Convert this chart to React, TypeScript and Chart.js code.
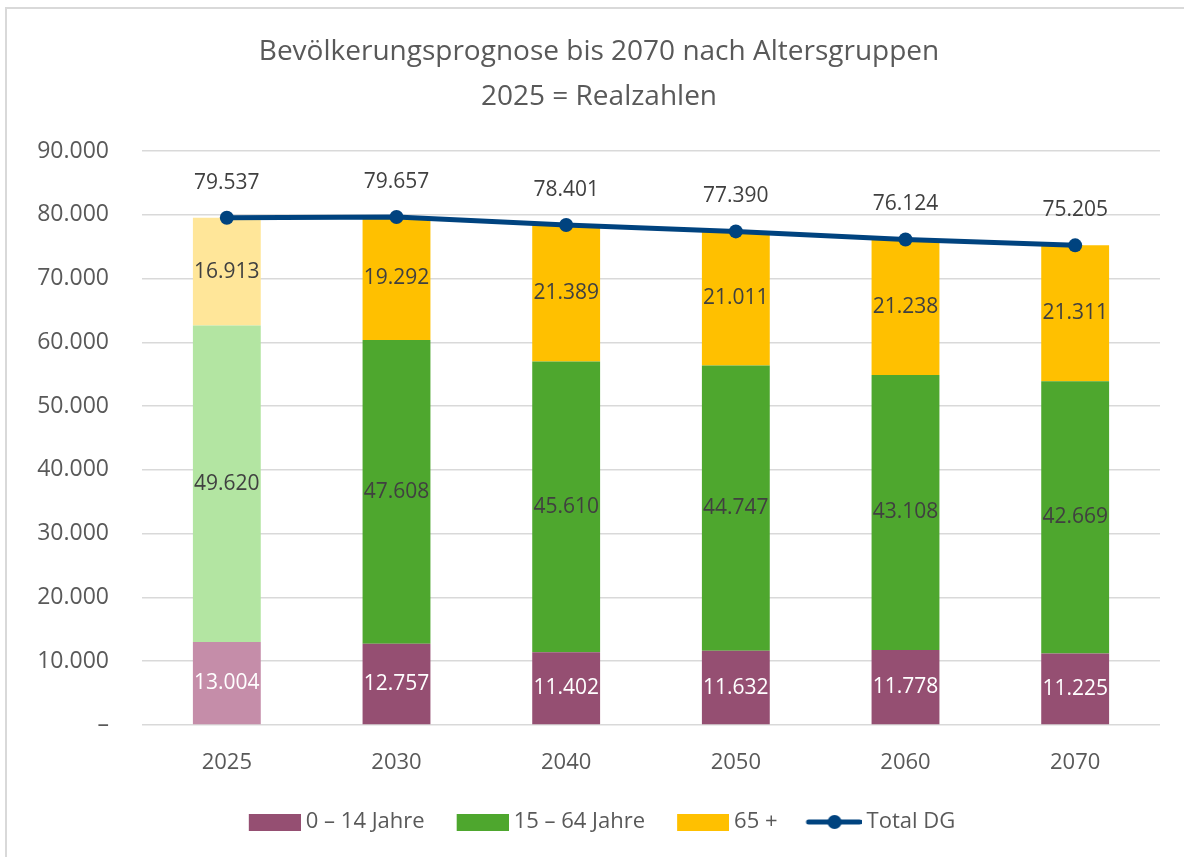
import React, { useEffect, useRef } from "react";
import { Chart, registerables } from "chart.js";

Chart.register(...registerables);

const years = ["2025", "2030", "2040", "2050", "2060", "2070"];
const kids = [13004, 12757, 11402, 11632, 11778, 11225];
const working = [49620, 47608, 45610, 44747, 43108, 42669];
const seniors = [16913, 19292, 21389, 21011, 21238, 21311];
const total = [79537, 79657, 78401, 77390, 76124, 75205];
const seriesNames = ["0 – 14 Jahre", "15 – 64 Jahre", "65 +", "Total DG"];
const titleLines = ["Bevölkerungsprognose bis 2070 nach Altersgruppen", "2025 = Realzahlen"];

const C_KIDS = "#954F72";
const C_KIDS_L = "#C58DA9";
const C_WORK = "#4EA72E";
const C_WORK_L = "#B3E5A2";
const C_SEN = "#FFC000";
const C_SEN_L = "#FFE699";
const C_LINE = "#00437F";
const TXT = "#595959";
const LBL = "#404040";
const FONT = "'Open Sans', 'Noto Sans', sans-serif";

function fmt(n: number): string {
  return Math.round(n).toString().replace(/\B(?=(\d{3})+(?!\d))/g, ".");
}

function perBar(normal: string, light: string) {
  return years.map((_, i) => (i === 0 ? light : normal));
}

// legend swatch; transparent left margin shifts the swatch right so the text gap is small
function boxImg(color: string) {
  const c = document.createElement("canvas");
  c.width = 64;
  c.height = 17;
  const ctx = c.getContext("2d")!;
  ctx.fillStyle = color;
  ctx.fillRect(12, 0, 52, 17);
  return c;
}

function lineImg(color: string) {
  const c = document.createElement("canvas");
  c.width = 64;
  c.height = 16;
  const ctx = c.getContext("2d")!;
  ctx.strokeStyle = color;
  ctx.lineWidth = 5;
  ctx.lineCap = "round";
  ctx.beginPath();
  ctx.moveTo(11, 8);
  ctx.lineTo(62, 8);
  ctx.stroke();
  ctx.fillStyle = color;
  ctx.beginPath();
  ctx.arc(37, 8, 7, 0, Math.PI * 2);
  ctx.fill();
  return c;
}

const labelPlugin = {
  id: "valueLabels",
  afterDatasetsDraw(chart: any) {
    const ctx = chart.ctx;
    ctx.save();
    ctx.font = `21px ${FONT}`;
    ctx.textAlign = "center";
    ctx.textBaseline = "middle";
    chart.data.datasets.forEach((ds: any, di: number) => {
      const meta = chart.getDatasetMeta(di);
      meta.data.forEach((el: any, i: number) => {
        const v = ds.data[i];
        if (ds.type === "line") {
          ctx.fillStyle = LBL;
          ctx.fillText(fmt(v), el.x, el.y - 35);
        } else {
          ctx.fillStyle = di === 0 ? "#FFFFFF" : LBL;
          ctx.fillText(fmt(v), el.x, (el.y + el.base) / 2);
        }
      });
    });
    ctx.restore();
  },
};

export default function App() {
  const ref = useRef<HTMLCanvasElement>(null);
  useEffect(() => {
    const legendImgs = [boxImg(C_KIDS), boxImg(C_WORK), boxImg(C_SEN), lineImg(C_LINE)];
    const chart = new Chart(ref.current!, {
      type: "bar",
      data: {
        labels: years,
        datasets: [
          {
            type: "bar",
            label: seriesNames[0],
            data: kids,
            backgroundColor: perBar(C_KIDS, C_KIDS_L),
            stack: "pop",
            order: 1,
          },
          {
            type: "bar",
            label: seriesNames[1],
            data: working,
            backgroundColor: perBar(C_WORK, C_WORK_L),
            stack: "pop",
            order: 1,
          },
          {
            type: "bar",
            label: seriesNames[2],
            data: seniors,
            backgroundColor: perBar(C_SEN, C_SEN_L),
            stack: "pop",
            order: 1,
          },
          {
            type: "line",
            label: seriesNames[3],
            data: total,
            borderColor: C_LINE,
            backgroundColor: C_LINE,
            borderWidth: 5,
            pointRadius: 7,
            pointBackgroundColor: C_LINE,
            pointBorderWidth: 0,
            tension: 0,
            stack: "total",
            order: 0,
          } as any,
        ],
      },
      options: {
        animation: false,
        responsive: false,
        datasets: {
          bar: { barPercentage: 0.4, categoryPercentage: 1.0 },
        },
        layout: { padding: { left: 14, right: 0, top: 0, bottom: 14 } },
        scales: {
          x: {
            stacked: true,
            grid: { display: false },
            border: { display: false },
            ticks: { color: TXT, font: { family: FONT, size: 22 }, padding: 17 },
            afterFit: (s: any) => {
              s.height = 60;
            },
          },
          y: {
            stacked: true,
            min: 0,
            max: 90000,
            grid: { color: "#D9D9D9", lineWidth: 1.5, drawTicks: false },
            border: { display: false },
            ticks: {
              stepSize: 10000,
              color: TXT,
              font: { family: FONT, size: 23 },
              padding: 33,
              callback: (v: any) => (Number(v) === 0 ? "–" : fmt(Number(v))),
            },
            afterFit: (s: any) => {
              s.width = 128;
            },
          },
          yRightSpace: {
            position: "right",
            display: true,
            min: 0,
            max: 90000,
            grid: { display: false, drawTicks: false },
            border: { display: false },
            ticks: { display: false },
            afterFit: (s: any) => {
              s.width = 24;
            },
          },
        },
        plugins: {
          title: {
            display: true,
            text: titleLines,
            color: TXT,
            font: { family: FONT, size: 28, weight: "normal", lineHeight: 1.607 },
            padding: { top: 30, bottom: 31 },
          },
          legend: {
            position: "bottom",
            labels: {
              usePointStyle: true,
              pointStyleWidth: 52,
              boxHeight: 17,
              padding: 26,
              color: TXT,
              font: { family: FONT, size: 22, lineHeight: 1 },
              generateLabels: (ch: any) =>
                ch.data.datasets.map((ds: any, i: number) => ({
                  text: ds.label,
                  datasetIndex: i,
                  pointStyle: legendImgs[i],
                  fillStyle: "rgba(0,0,0,0)",
                  strokeStyle: "rgba(0,0,0,0)",
                  lineWidth: 0,
                  fontColor: TXT,
                  hidden: false,
                })),
            },
          },
          tooltip: { enabled: false },
        },
      },
      plugins: [labelPlugin],
    });
    return () => chart.destroy();
  }, []);

  return (
    <div
      style={{
        position: "fixed",
        left: 0,
        top: 0,
        width: 1184,
        height: 857,
        overflow: "hidden",
        background: "#FFFFFF",
      }}
    >
      <div
        style={{
          position: "absolute",
          left: 5,
          top: 7,
          width: 1300,
          height: 1000,
          borderLeft: "2px solid #D9D9D9",
          borderTop: "2px solid #D9D9D9",
        }}
      />
      <canvas
        ref={ref}
        width={1184}
        height={857}
        style={{ position: "absolute", left: 0, top: 0, display: "block" }}
      />
    </div>
  );
}
